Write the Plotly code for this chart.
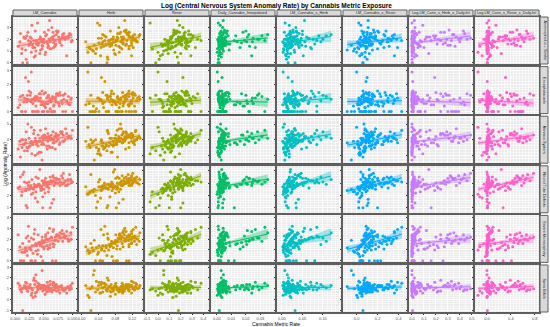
import numpy as np
import plotly.graph_objects as go
from plotly.subplots import make_subplots

metrics = ["LM_Cannabis", "Herb", "Resin", "Daily_Cannabis_Interpolated",
           "LM_Cannabis_x_Herb", "LM_Cannabis_x_Resin",
           "Log.LM_Cann_x_Herb_x_Daily.Int", "Log.LM_Cann_x_Resin_x_Daily.Int"]
anomalies = ["Anencephalus + Similar", "Encephalocoele", "Nervous System",
             "Neural Tube Defects", "Severe Microcephaly", "Spina Bifida"]
colors = ["#F8766D", "#CD9600", "#7CAE00", "#00BE67", "#00BFC4", "#00A9FF", "#C77CFF", "#FF61CC"]

# ---- cannabis metric values (x) ----
lm_cannabis = [0.012, 0.035, 0.008, 0.021, 0.047, 0.015, 0.028, 0.005, 0.039, 0.018,
               0.025, 0.011, 0.042, 0.031, 0.019, 0.056, 0.009, 0.036, 0.023, 0.048,
               0.030, 0.016, 0.052, 0.027, 0.061, 0.022, 0.040, 0.013, 0.045, 0.034,
               0.038, 0.058, 0.020, 0.044, 0.029, 0.067, 0.033, 0.050, 0.024, 0.055,
               0.041, 0.026, 0.063, 0.048, 0.035, 0.070, 0.018, 0.053, 0.046, 0.060,
               0.049, 0.037, 0.072, 0.057, 0.032, 0.065, 0.043, 0.078, 0.051, 0.028,
               0.055, 0.068, 0.040, 0.075, 0.059, 0.047, 0.082, 0.036, 0.064, 0.071,
               0.062, 0.050, 0.085, 0.069, 0.044, 0.077, 0.058, 0.090, 0.066, 0.053,
               0.070, 0.083, 0.057, 0.092, 0.074, 0.061, 0.088, 0.067, 0.095, 0.079,
               0.076, 0.098, 0.066, 0.087, 0.081, 0.093, 0.072, 0.100, 0.084, 0.097]
herb = [0.020, 0.045, 0.010, 0.060, 0.030, 0.075, 0.015, 0.052, 0.038, 0.025,
        0.048, 0.033, 0.070, 0.018, 0.062, 0.041, 0.085, 0.028, 0.055, 0.067,
        0.058, 0.040, 0.080, 0.050, 0.035, 0.092, 0.064, 0.022, 0.072, 0.046,
        0.066, 0.088, 0.054, 0.076, 0.043, 0.098, 0.061, 0.083, 0.071, 0.050,
        0.074, 0.058, 0.095, 0.082, 0.068, 0.104, 0.047, 0.089, 0.079, 0.102,
        0.084, 0.070, 0.108, 0.091, 0.063, 0.112, 0.078, 0.097, 0.112, 0.086,
        0.093, 0.112, 0.081, 0.103, 0.075, 0.112, 0.099, 0.118, 0.088, 0.106,
        0.100, 0.118, 0.090, 0.112, 0.084, 0.125, 0.105, 0.118, 0.096, 0.121,
        0.107, 0.125, 0.098, 0.118, 0.112, 0.130, 0.094, 0.122, 0.110, 0.127,
        0.114, 0.132, 0.105, 0.125, 0.118, 0.136, 0.101, 0.128, 0.121, 0.138]
resin = [-0.05, 0.02, 0.08, -0.02, 0.05, 0.11, 0.00, 0.04, -0.07, 0.07,
         0.03, 0.09, 0.06, 0.13, 0.01, 0.10, 0.15, 0.05, 0.08, 0.12,
         0.07, 0.12, 0.04, 0.16, 0.10, 0.14, 0.06, 0.18, 0.11, 0.09,
         0.10, 0.15, 0.13, 0.08, 0.19, 0.12, 0.17, 0.11, 0.21, 0.14,
         0.13, 0.18, 0.11, 0.20, 0.16, 0.09, 0.22, 0.15, 0.19, 0.17,
         0.16, 0.21, 0.14, 0.24, 0.18, 0.12, 0.20, 0.26, 0.17, 0.22,
         0.19, 0.23, 0.16, 0.27, 0.21, 0.25, 0.18, 0.29, 0.22, 0.20,
         0.18, 0.24, 0.16, 0.27, 0.21, 0.25, 0.14, 0.29, 0.20, 0.23,
         0.21, 0.27, 0.18, 0.30, 0.24, 0.26, 0.20, 0.33, 0.23, 0.25,
         0.22, 0.28, 0.19, 0.35, 0.25, 0.31, 0.17, 0.38, 0.24, 0.29]
daily = [0.0005, 0.0012, 0.0020, 0.0008, 0.0030, 0.0015, 0.0003, 0.0025, 0.0010, 0.0018,
         0.0014, 0.0022, 0.0007, 0.0035, 0.0011, 0.0028, 0.0019, 0.0045, 0.0009, 0.0024,
         0.0016, 0.0032, 0.0021, 0.0013, 0.0040, 0.0026, 0.0055, 0.0017, 0.0030, 0.0012,
         0.0020, 0.0038, 0.0027, 0.0085, 0.0023, 0.0048, 0.0031, 0.0016, 0.0019, 0.0042,
         0.0025, 0.0060, 0.0033, 0.0120, 0.0029, 0.0052, 0.0036, 0.0022, 0.0140, 0.0044,
         0.0030, 0.0090, 0.0039, 0.0160, 0.0047, 0.0028, 0.0034, 0.0065, 0.0180, 0.0050,
         0.0036, 0.0130, 0.0058, 0.0200, 0.0043, 0.0033, 0.0210, 0.0062, 0.0040, 0.0080,
         0.0041, 0.0170, 0.0068, 0.0225, 0.0035, 0.0190, 0.0053, 0.0240, 0.0045, 0.0078,
         0.0048, 0.0220, 0.0038, 0.0250, 0.0055, 0.0205, 0.0063, 0.0265, 0.0042, 0.0280,
         0.0057, 0.0245, 0.0046, 0.0290, 0.0060, 0.0310, 0.0072, 0.0330, 0.0050, 0.0350]
lmc_x_herb = [0.004, 0.010, 0.002, 0.015, 0.007, 0.020, 0.003, 0.012, 0.008, 0.005,
              0.009, 0.014, 0.006, 0.022, 0.011, 0.004, 0.018, 0.013, 0.025, 0.008,
              0.012, 0.017, 0.009, 0.028, 0.015, 0.006, 0.021, 0.032, 0.010, 0.019,
              0.014, 0.024, 0.011, 0.030, 0.018, 0.040, 0.016, 0.009, 0.026, 0.021,
              0.017, 0.027, 0.013, 0.035, 0.020, 0.048, 0.015, 0.031, 0.023, 0.055,
              0.019, 0.033, 0.016, 0.042, 0.025, 0.060, 0.021, 0.038, 0.028, 0.066,
              0.022, 0.037, 0.018, 0.050, 0.030, 0.072, 0.024, 0.045, 0.034, 0.080,
              0.025, 0.044, 0.020, 0.058, 0.033, 0.085, 0.027, 0.052, 0.038, 0.090,
              0.028, 0.050, 0.023, 0.064, 0.036, 0.095, 0.031, 0.070, 0.042, 0.100,
              0.031, 0.056, 0.026, 0.076, 0.040, 0.108, 0.035, 0.085, 0.047, 0.120]
lmc_x_resin = [-0.02, 0.03, 0.01, 0.06, -0.05, 0.04, 0.00, 0.08, 0.02, -0.09,
               0.02, 0.05, 0.07, 0.01, 0.10, 0.03, 0.06, -0.03, 0.09, 0.04,
               0.04, 0.08, 0.05, 0.12, 0.02, 0.07, 0.14, 0.06, 0.03, 0.10,
               0.05, 0.09, 0.07, 0.15, 0.04, 0.11, 0.08, 0.18, 0.06, 0.13,
               0.07, 0.12, 0.09, 0.20, 0.05, 0.14, 0.10, 0.08, 0.24, 0.11,
               0.08, 0.15, 0.10, 0.26, 0.07, 0.17, 0.12, 0.09, 0.21, 0.30,
               0.10, 0.18, 0.12, 0.28, 0.08, 0.20, 0.14, 0.33, 0.11, 0.23,
               0.11, 0.22, 0.13, 0.31, 0.09, 0.25, 0.16, 0.36, 0.12, 0.27,
               0.13, 0.26, 0.15, 0.35, 0.10, 0.29, 0.18, 0.39, 0.14, 0.32,
               0.15, 0.30, 0.17, 0.38, 0.12, 0.34, 0.20, 0.43, 0.16, 0.36]
log_herb_daily = [0.0, 0.0, 0.002, 0.0, 0.0, 0.005, 0.0, 0.001, 0.0, 0.003,
                  0.0, 0.004, 0.0, 0.010, 0.0, 0.002, 0.020, 0.0, 0.006, 0.0,
                  0.003, 0.0, 0.030, 0.001, 0.008, 0.0, 0.050, 0.004, 0.0, 0.012,
                  0.005, 0.070, 0.0, 0.015, 0.090, 0.002, 0.020, 0.110, 0.006, 0.040,
                  0.008, 0.130, 0.010, 0.160, 0.004, 0.060, 0.190, 0.012, 0.080, 0.020,
                  0.010, 0.210, 0.015, 0.100, 0.240, 0.005, 0.140, 0.030, 0.270, 0.018,
                  0.014, 0.180, 0.300, 0.020, 0.220, 0.008, 0.120, 0.330, 0.025, 0.260,
                  0.016, 0.280, 0.035, 0.360, 0.150, 0.010, 0.310, 0.040, 0.390, 0.200,
                  0.020, 0.340, 0.045, 0.410, 0.240, 0.012, 0.370, 0.050, 0.440, 0.290,
                  0.025, 0.400, 0.060, 0.460, 0.320, 0.015, 0.430, 0.070, 0.490, 0.350]
log_resin_daily = [0.0, -0.08, 0.0, 0.003, 0.0, 0.0, -0.15, 0.005, 0.0, 0.002,
                   0.0, 0.006, -0.05, 0.0, 0.010, 0.0, 0.030, 0.0, 0.004, -0.12,
                   0.004, 0.0, 0.050, 0.002, 0.012, 0.0, 0.080, 0.006, -0.03, 0.020,
                   0.006, 0.110, 0.0, 0.025, 0.150, 0.003, 0.035, 0.190, 0.008, 0.060,
                   0.010, 0.220, 0.015, 0.270, 0.005, 0.090, 0.310, 0.018, 0.130, 0.030,
                   0.012, 0.350, 0.020, 0.170, 0.390, 0.007, 0.240, 0.040, 0.430, 0.025,
                   0.016, 0.300, 0.470, 0.030, 0.360, 0.010, 0.200, 0.520, 0.035, 0.410,
                   0.020, 0.450, 0.050, 0.560, 0.260, 0.012, 0.500, 0.060, 0.600, 0.330,
                   0.025, 0.540, 0.070, 0.640, 0.390, 0.015, 0.580, 0.080, 0.680, 0.460,
                   0.030, 0.620, 0.090, 0.720, 0.500, 0.020, 0.660, 0.100, 0.780, 0.550]

# ---- log anomaly rates (y) ----
anencephalus = [1.2, 0.6, 1.8, 0.0, 1.5, 2.2, 0.9, 1.4, 3.4, 1.1,
                1.6, 0.8, 2.0, 1.3, 0.3, 1.7, 2.5, 1.0, 1.9, 1.4,
                1.5, 2.1, 0.7, 1.8, 1.2, 2.6, 1.6, 0.0, 2.0, 1.3,
                1.9, 1.4, 2.3, 1.1, 3.2, 1.7, 0.5, 2.0, 1.5, 2.4,
                1.7, 2.2, 1.2, 1.9, 2.7, 1.5, 2.1, 0.9, 1.8, 3.6,
                2.0, 1.6, 2.4, 1.3, 1.9, 2.2, 0.8, 1.7, 2.6, 2.1,
                1.8, 2.3, 1.5, 2.7, 2.0, 1.2, 2.2, 1.9, 3.0, 1.6,
                2.1, 1.7, 2.5, 1.4, 2.2, 1.9, 2.8, 0.6, 2.0, 2.3,
                1.9, 2.4, 1.6, 2.1, 2.6, 1.8, 2.2, 1.3, 2.5, 2.0,
                2.2, 1.8, 2.6, 2.0, 1.5, 2.3, 2.7, 1.9, 2.1, 2.4]
encephalocoele = [0.0, 0.9, 0.5, 1.2, 0.0, 0.7, 2.9, 0.3, 1.0, 0.0,
                  0.8, 0.0, 1.3, 0.6, 0.9, 0.0, 1.1, 0.4, 2.2, 0.7,
                  0.0, 1.0, 0.6, 1.4, 0.2, 0.9, 0.0, 1.2, 0.5, 0.8,
                  1.1, 0.0, 0.7, 1.3, 0.9, 0.4, 1.0, 0.0, 1.5, 0.6,
                  0.8, 1.2, 0.0, 0.5, 1.1, 0.9, 2.5, 0.3, 0.7, 1.0,
                  0.0, 0.9, 1.3, 0.6, 0.0, 1.1, 0.8, 1.4, 0.4, 0.7,
                  1.0, 0.5, 0.0, 1.2, 0.8, 1.5, 0.6, 0.0, 0.9, 1.1,
                  0.7, 1.3, 0.9, 0.0, 1.0, 0.4, 1.2, 0.8, 0.0, 1.4,
                  0.9, 0.0, 1.1, 0.6, 1.3, 0.8, 0.0, 1.0, 0.5, 1.2,
                  0.6, 1.0, 0.0, 1.3, 0.8, 1.1, 0.7, 0.0, 1.2, 0.9]
nervous_system = [3.5, 3.0, 3.9, 3.3, 2.7, 3.7, 4.8, 3.4, 3.1, 3.8,
                  3.6, 4.0, 3.2, 3.7, 4.5, 3.4, 2.9, 3.9, 3.5, 4.1,
                  3.7, 3.3, 4.1, 3.8, 3.5, 5.0, 3.6, 4.0, 3.2, 3.9,
                  3.8, 4.2, 3.5, 3.9, 3.1, 4.0, 4.6, 3.7, 4.1, 3.6,
                  3.9, 3.6, 4.3, 3.8, 4.1, 3.4, 4.0, 4.7, 3.7, 4.2,
                  4.0, 3.7, 4.2, 3.9, 4.4, 3.5, 4.1, 3.8, 4.3, 3.9,
                  4.1, 3.8, 4.3, 4.0, 3.6, 4.2, 4.5, 3.9, 4.1, 4.4,
                  4.0, 4.3, 3.9, 4.2, 4.6, 3.7, 4.1, 4.4, 3.8, 4.2,
                  4.2, 3.9, 4.4, 4.1, 4.3, 4.0, 4.7, 3.8, 4.2, 4.5,
                  4.3, 4.1, 4.5, 4.0, 4.4, 4.2, 3.9, 4.6, 4.3, 4.1]
neural_tube = [2.3, 1.8, 2.7, 1.0, 2.5, 3.9, 2.1, 2.6, 1.5, 2.4,
               2.5, 2.0, 2.9, 2.2, 1.2, 2.7, 3.5, 2.3, 2.8, 1.9,
               2.6, 3.1, 2.2, 2.8, 1.0, 2.5, 2.9, 3.7, 2.4, 2.7,
               2.8, 2.3, 3.0, 2.6, 3.3, 1.7, 2.9, 2.5, 3.1, 2.7,
               2.9, 2.6, 3.2, 1.0, 2.8, 3.0, 2.4, 3.4, 2.7, 3.1,
               3.0, 2.7, 3.3, 2.9, 2.5, 3.1, 4.1, 2.8, 3.2, 2.6,
               3.1, 2.8, 3.4, 3.0, 2.6, 3.2, 2.9, 3.5, 1.4, 3.0,
               3.2, 2.9, 3.0, 3.4, 2.7, 3.3, 3.1, 2.8, 3.6, 3.0,
               3.1, 3.4, 2.9, 3.3, 3.0, 3.5, 2.8, 3.2, 3.7, 3.1,
               3.3, 3.0, 3.5, 3.2, 3.6, 2.9, 3.4, 3.1, 3.8, 3.3]
severe_microcephaly = [0.8, 0.0, 1.3, 0.5, 1.9, 0.0, 1.0, 2.4, 0.6, 1.2,
                       1.1, 0.0, 1.6, 0.7, 2.1, 1.4, 0.0, 0.9, 3.2, 1.3,
                       1.4, 0.8, 1.9, 0.0, 1.2, 2.3, 1.0, 1.6, 0.4, 2.9,
                       1.5, 2.0, 0.9, 1.7, 0.0, 1.3, 2.5, 1.1, 1.8, 1.4,
                       1.7, 1.2, 2.2, 0.0, 1.5, 1.9, 1.0, 2.4, 1.6, 3.0,
                       1.8, 1.4, 2.3, 1.1, 2.0, 0.0, 1.7, 2.6, 1.3, 2.1,
                       2.0, 1.5, 2.4, 1.8, 1.2, 2.2, 2.8, 1.6, 2.1, 0.0,
                       2.1, 1.7, 2.5, 1.9, 1.4, 2.3, 2.0, 2.7, 1.6, 2.2,
                       2.2, 1.8, 2.6, 2.0, 2.4, 1.5, 2.3, 2.9, 1.9, 2.1,
                       2.3, 2.0, 2.7, 2.1, 2.5, 1.8, 2.4, 3.1, 2.2, 2.6]
spina_bifida = [1.0, 0.6, 1.3, 0.8, 2.7, 1.1, 0.4, 1.5, 0.9, 1.2,
                1.1, 0.7, 1.4, 0.2, 1.0, 1.6, 0.9, 2.3, 1.2, 0.8,
                0.9, 1.3, 0.5, 1.1, 1.7, 0.8, 1.2, -1.0, 1.0, 1.4,
                1.2, 0.8, 1.5, 1.0, 0.6, 1.3, 2.0, 0.9, 1.1, 0.7,
                1.0, 1.4, 0.8, 1.2, 0.3, 1.1, 1.6, 0.9, 1.3, 1.0,
                1.1, 0.7, 1.4, 1.0, 1.8, 0.9, 1.2, 0.6, 1.3, 1.0,
                1.2, 0.9, 1.5, 1.1, 0.8, 1.3, 1.0, 1.7, 0.7, 1.2,
                1.0, 1.3, 0.8, 1.4, 1.1, 0.9, 1.2, 0.6, 1.5, 1.1,
                1.1, 0.9, 1.3, 1.2, 0.8, 1.4, 1.0, 1.6, 0.9, 1.2,
                1.2, 1.0, 1.4, 0.9, 1.3, 1.1, 0.8, 1.5, 1.0, 1.3]

X = [lm_cannabis, herb, resin, daily, lmc_x_herb, lmc_x_resin, log_herb_daily, log_resin_daily]
Y = [anencephalus, encephalocoele, nervous_system, neural_tube, severe_microcephaly, spina_bifida]

x_ticks = [[0, 0.025, 0.05, 0.075, 0.1], [0, 0.04, 0.08, 0.12], [-0.1, 0, 0.1, 0.2, 0.3, 0.4],
           [0, 0.01, 0.02, 0.03], [0, 0.05, 0.10], [0.0, 0.2, 0.4], [0, 0.1, 0.2, 0.3, 0.4, 0.5],
           [0, 0.4, 0.8]]
x_ticklabels = [["0.000", "0.025", "0.050", "0.075", "0.100"], ["0.00", "0.04", "0.08", "0.12"],
                ["-0.1", "0.0", "0.1", "0.2", "0.3", "0.4"], ["0.00", "0.01", "0.02", "0.03"],
                ["0.00", "0.05", "0.10"], ["0.0", "0.2", "0.4"],
                ["0.0", "0.1", "0.2", "0.3", "0.4", "0.5"], ["0.0", "0.4", "0.8"]]
x_ranges = [[-0.004, 0.108], [-0.006, 0.145], [-0.115, 0.45], [-0.004, 0.04],
            [-0.012, 0.144], [-0.13, 0.48], [-0.025, 0.51], [-0.2, 0.87]]
y_ticks = [[0, 1, 2, 3], [0, 1, 2, 3], [3, 4, 5], [1, 2, 3, 4], [0, 1, 2, 3, 4], [-1, 0, 1, 2, 3]]
y_ranges = [[-0.1, 3.9], [-0.15, 3.3], [2.5, 5.5], [0.6, 4.4], [-0.15, 4.2], [-1.15, 3.2]]

NR, NC = 6, 8
W, H = 550, 327
ml, mr, mt, mb = 13, 11, 17, 15
pw, ph = W - ml - mr, H - mt - mb

fig = make_subplots(rows=NR, cols=NC, shared_xaxes=True, shared_yaxes=True,
                    horizontal_spacing=2.0 / pw, vertical_spacing=2.6 / ph)


def rgba(hexc, a):
    h = hexc.lstrip("#")
    return "rgba(%d,%d,%d,%.2f)" % (int(h[0:2], 16), int(h[2:4], 16), int(h[4:6], 16), a)


for r in range(NR):
    for c in range(NC):
        x = np.array(X[c], dtype=float)
        y = np.array(Y[r], dtype=float)
        fig.add_trace(go.Scatter(x=x, y=y, mode="markers",
                                 marker=dict(size=3, color=colors[c], line=dict(width=0)),
                                 showlegend=False, hoverinfo="skip"), row=r + 1, col=c + 1)
        n = len(x)
        b1, b0 = np.polyfit(x, y, 1)
        xs = np.linspace(x.min(), x.max(), 60)
        yh = b0 + b1 * xs
        resid = y - (b0 + b1 * x)
        s = np.sqrt(np.sum(resid ** 2) / (n - 2))
        xm = x.mean()
        sxx = np.sum((x - xm) ** 2)
        se = s * np.sqrt(1.0 / n + (xs - xm) ** 2 / sxx)
        t = 1.984
        up, lo = yh + t * se, yh - t * se
        fig.add_trace(go.Scatter(x=np.concatenate([xs, xs[::-1]]), y=np.concatenate([up, lo[::-1]]),
                                 fill="toself", fillcolor=rgba(colors[c], 0.35), line=dict(width=0),
                                 mode="lines", showlegend=False, hoverinfo="skip"), row=r + 1, col=c + 1)
        fig.add_trace(go.Scatter(x=xs, y=yh, mode="lines", line=dict(color=colors[c], width=1),
                                 showlegend=False, hoverinfo="skip"), row=r + 1, col=c + 1)

axis_common = dict(showline=True, mirror=True, linecolor="#5E5E5E", linewidth=1.6,
                   showgrid=True, gridcolor="white", gridwidth=0.6, zeroline=False,
                   ticks="outside", ticklen=1.5, tickwidth=0.6, tickcolor="#333333",
                   tickfont=dict(size=4, color="#4D4D4D"),
                   minor=dict(showgrid=True, gridcolor="rgba(255,255,255,0.6)", gridwidth=0.3))

for r in range(NR):
    for c in range(NC):
        fig.update_xaxes(range=x_ranges[c], tickvals=x_ticks[c], ticktext=x_ticklabels[c],
                         row=r + 1, col=c + 1, **axis_common)
        fig.update_yaxes(range=y_ranges[r], tickvals=y_ticks[r],
                         ticktext=[str(v) for v in y_ticks[r]],
                         row=r + 1, col=c + 1, **axis_common)

shapes = []
annotations = []
# column strips
for c in range(NC):
    xa = fig.layout["xaxis" + ("" if c == 0 else str(c + 1))]
    d0, d1 = xa.domain
    shapes.append(dict(type="rect", xref="paper", yref="paper", x0=d0, x1=d1,
                       y0=1 + 1.0 / ph, y1=1 + 7.0 / ph, fillcolor="#D9D9D9",
                       line=dict(color="#5E5E5E", width=1)))
    annotations.append(dict(text=metrics[c], xref="paper", yref="paper", x=(d0 + d1) / 2,
                            y=1 + 4.0 / ph, showarrow=False, xanchor="center", yanchor="middle",
                            font=dict(size=3.8, color="#1A1A1A")))
# row strips
for r in range(NR):
    idx = r * NC + 1
    ya = fig.layout["yaxis" + ("" if idx == 1 else str(idx))]
    d0, d1 = ya.domain
    shapes.append(dict(type="rect", xref="paper", yref="paper", x0=1 + 1.0 / pw, x1=1 + 9.0 / pw,
                       y0=d0, y1=d1, fillcolor="#D9D9D9", line=dict(color="#5E5E5E", width=1)))
    annotations.append(dict(text=anomalies[r], xref="paper", yref="paper", x=1 + 5.0 / pw,
                            y=(d0 + d1) / 2, showarrow=False, textangle=90,
                            xanchor="center", yanchor="middle",
                            font=dict(size=3.8, color="#1A1A1A")))

annotations.append(dict(text="<b>Log (Central Nervous System Anomaly Rate) by Cannabis Metric Exposure</b>",
                        xref="paper", yref="paper", x=0.5, y=1 + 11.0 / ph, showarrow=False,
                        xanchor="center", yanchor="middle", font=dict(size=6.5, color="black")))
annotations.append(dict(text="Cannabis Metric Rate", xref="paper", yref="paper", x=0.5,
                        y=-12.0 / ph, showarrow=False, xanchor="center", yanchor="middle",
                        font=dict(size=5, color="black")))
annotations.append(dict(text="Log (Anomaly Rate)", xref="paper", yref="paper", x=-9.0 / pw,
                        y=0.5, showarrow=False, textangle=-90, xanchor="center", yanchor="middle",
                        font=dict(size=5, color="black")))

fig.update_layout(width=W, height=H, margin=dict(l=ml, r=mr, t=mt, b=mb, autoexpand=False),
                  plot_bgcolor="#EBEBEB", paper_bgcolor="white",
                  font=dict(family="Liberation Sans, Arial, sans-serif"),
                  shapes=shapes, annotations=annotations, showlegend=False)

fig.write_html("out.html", config={"displayModeBar": False},
               post_script="document.body.style.margin='0';document.body.style.padding='0';")
